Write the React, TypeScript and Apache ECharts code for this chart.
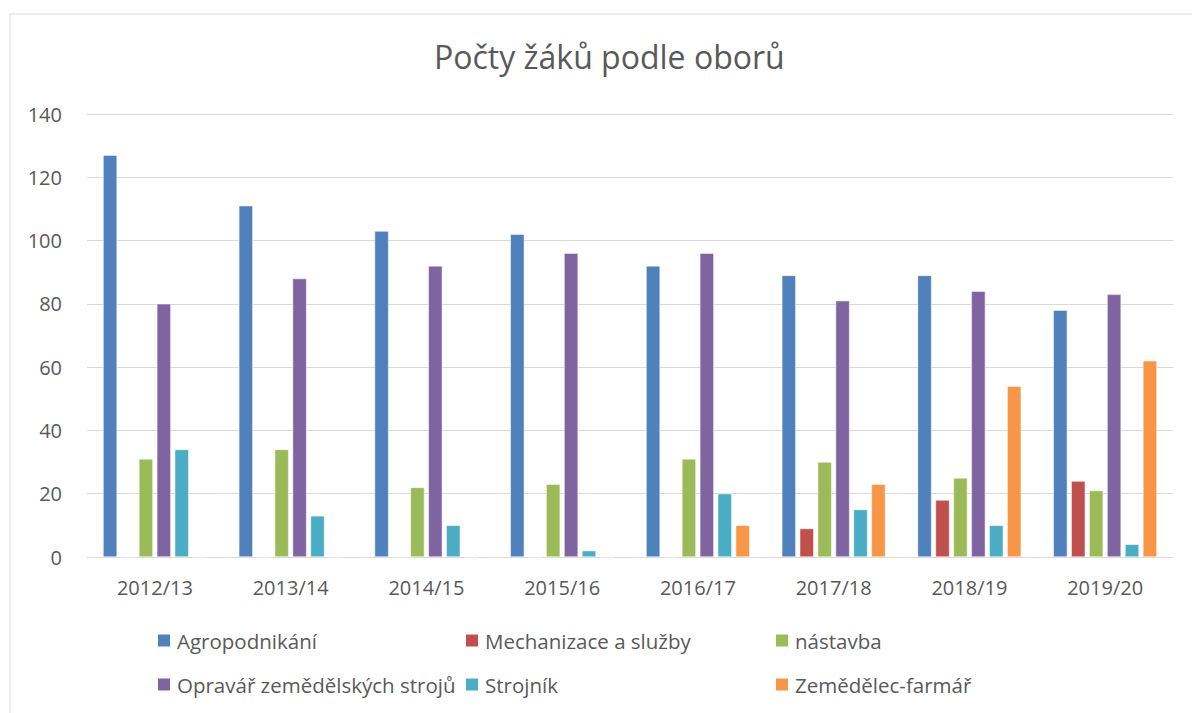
import React, { useEffect, useRef } from "react";
import * as echarts from "echarts";

const categories = ["2012/13", "2013/14", "2014/15", "2015/16", "2016/17", "2017/18", "2018/19", "2019/20"];
const seriesNames = [
  "Agropodnikání",
  "Mechanizace a služby",
  "nástavba",
  "Opravář zemědělských strojů",
  "Strojník",
  "Zemědělec-farmář",
];
const agropodnikani = [127, 111, 103, 102, 92, 89, 89, 78];
const mechanizace = [0, 0, 0, 0, 0, 9, 18, 24];
const nastavba = [31, 34, 22, 23, 31, 30, 25, 21];
const opravar = [80, 88, 92, 96, 96, 81, 84, 83];
const strojnik = [34, 13, 10, 2, 20, 15, 10, 4];
const zemedelec = [0, 0, 0, 0, 10, 23, 54, 62];
const seriesData = [agropodnikani, mechanizace, nastavba, opravar, strojnik, zemedelec];
const colors = ["#4F81BD", "#C0504D", "#9BBB59", "#8064A2", "#4BACC6", "#F79646"];
const yTicks = { min: 0, max: 140, interval: 20 };

const FONT = "'Open Sans', 'Liberation Sans', sans-serif";

export default function App() {
  const ref = useRef<HTMLDivElement>(null);
  useEffect(() => {
    if (!ref.current) return;
    const chart = echarts.init(ref.current, undefined, { renderer: "svg" });
    const legendText = { color: "#595959", fontSize: 20.5, fontFamily: FONT, padding: [0, 0, 0, 1] };
    const mkLegend = (names: string[], left: number) => ({
      data: names,
      orient: "vertical" as const,
      left,
      top: 625,
      itemWidth: 14,
      itemHeight: 14,
      itemGap: 23,
      icon: "rect",
      textStyle: legendText,
      selectedMode: false,
    });
    chart.setOption({
      animation: false,
      color: colors,
      title: {
        text: "Počty žáků podle oborů",
        left: 429,
        top: 35,
        textStyle: { color: "#595959", fontSize: 32, fontWeight: "normal", fontFamily: FONT },
      },
      graphic: [
        {
          type: "rect",
          shape: { x: 10, y: 14, width: 1200, height: 720 },
          style: { fill: "none", stroke: "#D9D9D9", lineWidth: 1 },
          silent: true,
        },
      ],
      legend: [
        mkLegend([seriesNames[0], seriesNames[3]], 151),
        mkLegend([seriesNames[1], seriesNames[4]], 459),
        mkLegend([seriesNames[2], seriesNames[5]], 769),
      ],
      grid: { left: 87, right: 19, top: 114, bottom: 156 },
      xAxis: {
        type: "category",
        data: categories,
        axisLine: { lineStyle: { color: "#D9D9D9", width: 1 } },
        axisTick: { show: false },
        axisLabel: { color: "#595959", fontSize: 20, fontFamily: FONT, margin: 20 },
      },
      yAxis: {
        type: "value",
        min: yTicks.min,
        max: yTicks.max,
        interval: yTicks.interval,
        axisLine: { show: false },
        axisTick: { show: false },
        splitLine: { lineStyle: { color: "#D9D9D9", width: 1 } },
        axisLabel: { color: "#595959", fontSize: 20, fontFamily: FONT, margin: 25 },
      },
      series: seriesNames.map((name, i) => ({
        name,
        type: "bar",
        data: seriesData[i],
        barWidth: 14,
        barGap: "28%",
        itemStyle: { color: colors[i], borderColor: "#ffffff", borderWidth: 0.5 },
      })),
    });
    return () => chart.dispose();
  }, []);
  return (
    <div
      ref={ref}
      style={{ position: "absolute", left: 0, top: 0, width: 1192, height: 713, background: "#fff" }}
    />
  );
}
